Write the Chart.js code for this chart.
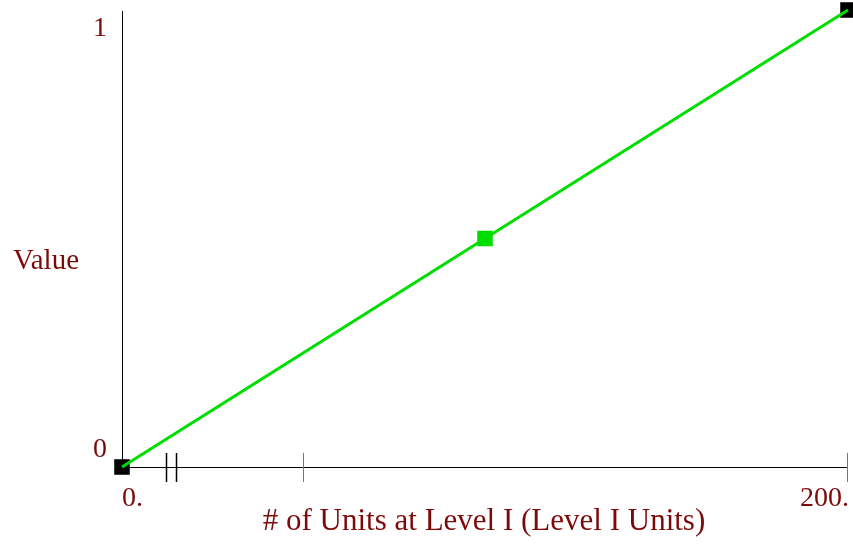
<!DOCTYPE html>
<html>
<head>
<meta charset="utf-8">
<script src="https://cdn.jsdelivr.net/npm/chart.js@4/dist/chart.umd.min.js"></script>
<style>
  html, body { margin: 0; padding: 0; background: #fff; }
  #wrap { width: 853px; height: 544px; }
</style>
</head>
<body>
<div id="wrap"><canvas id="lineChart"></canvas></div>
<script>
// data
var xValues = [0, 100, 200];
var yValues = [0, 0.5, 1];
var endX = [0, 200];
var endY = [0, 1];
var blackTicks = [12, 15];
var grayTicks = [50, 200];
var xTickLabels = ["0.", "200."];
var yTickLabels = ["0", "1"];
var xTitle = "# of Units at Level I (Level I Units)";
var yTitle = "Value";

var textColor = '#7d0a0a';
var serif = '"Liberation Serif", "Times New Roman", serif';

// axes, ticks and labels drawn on top of the chart scales
var axesPlugin = {
    id: 'axesPlugin',
    beforeDatasetsDraw: function (chart) {
        var ctx = chart.ctx;
        var xs = chart.scales.x;
        var ys = chart.scales.y;
        var x0 = xs.getPixelForValue(0);
        var y0 = ys.getPixelForValue(0);
        ctx.save();
        ctx.lineWidth = 1;
        ctx.strokeStyle = '#000';
        // y axis
        ctx.beginPath();
        ctx.moveTo(x0 + 0.5, ys.getPixelForValue(1) + 1);
        ctx.lineTo(x0 + 0.5, y0 + 1);
        ctx.stroke();
        // x axis
        ctx.beginPath();
        ctx.moveTo(x0, y0 + 0.5);
        ctx.lineTo(xs.getPixelForValue(200), y0 + 0.5);
        ctx.stroke();
        // tick marks
        blackTicks.forEach(function (v) {
            var px = Math.round(xs.getPixelForValue(v)) + 0.5;
            ctx.strokeStyle = '#000';
            ctx.lineWidth = 1.5;
            ctx.beginPath();
            ctx.moveTo(px, y0 - 14);
            ctx.lineTo(px, y0 + 15);
            ctx.stroke();
        });
        grayTicks.forEach(function (v) {
            var px = Math.round(xs.getPixelForValue(v)) - 0.5;
            ctx.strokeStyle = '#777';
            ctx.lineWidth = 1;
            ctx.beginPath();
            ctx.moveTo(px, y0 - 14);
            ctx.lineTo(px, y0 + 15);
            ctx.stroke();
        });
        // tick labels
        ctx.fillStyle = textColor;
        ctx.font = '28px ' + serif;
        ctx.textBaseline = 'alphabetic';
        ctx.textAlign = 'left';
        ctx.fillText(xTickLabels[0], x0, 506);
        ctx.textAlign = 'right';
        ctx.fillText(xTickLabels[1], xs.getPixelForValue(200) + 1, 506);
        ctx.fillText(yTickLabels[0], 107, ys.getPixelForValue(0) - 10);
        ctx.fillText(yTickLabels[1], 107, ys.getPixelForValue(1) + 26);
        // titles
        ctx.font = '31px ' + serif;
        ctx.textAlign = 'center';
        ctx.fillText(xTitle, 484, 530);
        ctx.font = '29px ' + serif;
        ctx.textAlign = 'left';
        ctx.fillText(yTitle, 13, 269);
        ctx.restore();
    }
};

var ctxL = document.getElementById("lineChart").getContext('2d');
var myLineChart = new Chart(ctxL, {
    type: 'line',
    plugins: [axesPlugin],
    data: {
        datasets: [{
            data: xValues.map(function (x, i) { return { x: x, y: yValues[i] }; }),
            borderColor: '#00dd00',
            borderWidth: 3,
            pointStyle: 'rect',
            pointRadius: [0, 11, 0],
            pointBackgroundColor: '#00dd00',
            pointBorderWidth: 0,
            fill: false,
            tension: 0,
            clip: false,
            order: 1
        }, {
            data: endX.map(function (x, i) { return { x: x, y: endY[i] }; }),
            showLine: false,
            pointStyle: 'rect',
            pointRadius: 11,
            pointBackgroundColor: '#000',
            pointBorderWidth: 0,
            clip: false,
            order: 2
        }]
    },
    options: {
        responsive: true,
        maintainAspectRatio: false,
        animation: false,
        events: [],
        layout: {
            autoPadding: false,
            padding: { left: 122, right: 5, top: 10, bottom: 77 }
        },
        plugins: {
            legend: { display: false },
            tooltip: { enabled: false }
        },
        scales: {
            x: { type: 'linear', min: 0, max: 200, display: false },
            y: { type: 'linear', min: 0, max: 1, display: false }
        }
    }
});
</script>
</body>
</html>
